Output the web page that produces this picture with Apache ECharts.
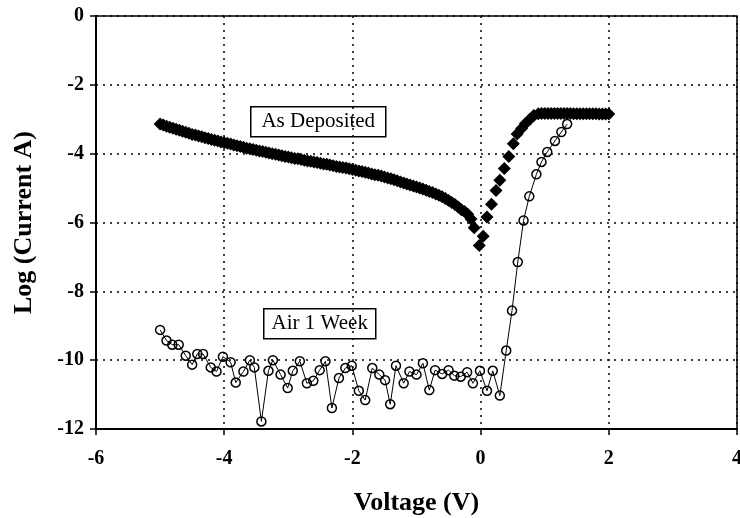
<!DOCTYPE html>
<html>
<head>
<meta charset="utf-8">
<script src="https://cdn.jsdelivr.net/npm/echarts@6/dist/echarts.min.js"></script>
<style>
html,body{margin:0;padding:0;background:#fff;}
#c{width:740px;height:518px;}
</style>
</head>
<body>
<div id="c"></div>
<script>
// ---- Data ----
var xTicks = [-6, -4, -2, 0, 2, 4];
var yTicks = [-12, -10, -8, -6, -4, -2, 0];

var depName = 'As Deposited';
var xDep = [
 -5.00,-4.95,-4.90,-4.85,-4.80,-4.75,-4.70,-4.65,-4.60,-4.55,
 -4.50,-4.45,-4.40,-4.35,-4.30,-4.25,-4.20,-4.15,-4.10,-4.05,
 -4.00,-3.95,-3.90,-3.85,-3.80,-3.75,-3.70,-3.65,-3.60,-3.55,
 -3.50,-3.45,-3.40,-3.35,-3.30,-3.25,-3.20,-3.15,-3.10,-3.05,
 -3.00,-2.95,-2.90,-2.85,-2.80,-2.75,-2.70,-2.65,-2.60,-2.55,
 -2.50,-2.45,-2.40,-2.35,-2.30,-2.25,-2.20,-2.15,-2.10,-2.05,
 -2.00,-1.95,-1.90,-1.85,-1.80,-1.75,-1.70,-1.65,-1.60,-1.55,
 -1.50,-1.45,-1.40,-1.35,-1.30,-1.25,-1.20,-1.15,-1.10,-1.05,
 -1.00,-0.95,-0.90,-0.85,-0.80,-0.75,-0.70,-0.65,-0.60,-0.55,
 -0.50,-0.45,-0.40,-0.35,-0.30,-0.25,-0.20,-0.15,-0.10,
 -0.02,0.04,0.10,0.17,0.24,0.30,0.37,0.44,0.51,0.57,
 0.64,0.70,0.77,0.83,0.90,0.95,1.00,1.05,1.10,1.15,
 1.20,1.25,1.30,1.35,1.40,1.45,1.50,1.55,1.60,1.65,
 1.70,1.75,1.80,1.85,1.90,1.95,2.00
];
var yDep = [
 -3.14,-3.17,-3.20,-3.23,-3.26,-3.29,-3.32,-3.35,-3.38,-3.41,
 -3.44,-3.46,-3.49,-3.51,-3.54,-3.56,-3.59,-3.61,-3.63,-3.66,
 -3.68,-3.70,-3.72,-3.75,-3.77,-3.79,-3.81,-3.84,-3.86,-3.88,
 -3.90,-3.92,-3.94,-3.96,-3.98,-4.00,-4.02,-4.04,-4.06,-4.08,
 -4.10,-4.12,-4.14,-4.15,-4.17,-4.19,-4.21,-4.22,-4.24,-4.26,
 -4.28,-4.30,-4.31,-4.33,-4.35,-4.37,-4.39,-4.40,-4.42,-4.44,
 -4.46,-4.48,-4.50,-4.52,-4.54,-4.56,-4.59,-4.61,-4.63,-4.65,
 -4.68,-4.71,-4.73,-4.76,-4.79,-4.82,-4.85,-4.88,-4.91,-4.94,
 -4.97,-5.00,-5.03,-5.06,-5.10,-5.13,-5.17,-5.21,-5.25,-5.30,
 -5.36,-5.42,-5.48,-5.55,-5.63,-5.68,-5.76,-5.90,-6.15,
 -6.67,-6.40,-5.84,-5.47,-5.07,-4.77,-4.43,-4.08,-3.71,-3.43,
 -3.27,-3.12,-3.00,-2.89,-2.84,-2.83,-2.83,-2.83,-2.83,-2.83,
 -2.83,-2.83,-2.83,-2.83,-2.83,-2.84,-2.84,-2.84,-2.84,-2.84,
 -2.84,-2.84,-2.84,-2.85,-2.85,-2.85,-2.85
];

var airName = 'Air 1 Week';
var xAir = [
 -5.00,-4.90,-4.81,-4.71,-4.60,-4.50,-4.42,-4.33,-4.21,-4.12,
 -4.02,-3.90,-3.82,-3.70,-3.60,-3.53,-3.42,-3.31,-3.24,-3.12,
 -3.01,-2.93,-2.82,-2.71,-2.61,-2.51,-2.42,-2.32,-2.21,-2.11,
 -2.01,-1.90,-1.80,-1.69,-1.58,-1.49,-1.41,-1.32,-1.20,-1.11,
 -1.00,-0.90,-0.80,-0.71,-0.60,-0.50,-0.41,-0.31,-0.21,-0.12,
 -0.01,0.10,0.19,0.30,0.40,0.49,0.58,0.67,0.76,0.87,
 0.95,1.04,1.16,1.26,1.35
];
var yAir = [
 -9.12,-9.43,-9.55,-9.55,-9.87,-10.13,-9.82,-9.82,-10.21,-10.33,
 -9.90,-10.06,-10.65,-10.33,-10.00,-10.21,-11.78,-10.31,-10.00,-10.42,
 -10.81,-10.31,-10.03,-10.67,-10.60,-10.29,-10.03,-11.39,-10.52,-10.23,
 -10.16,-10.89,-11.16,-10.23,-10.42,-10.58,-11.28,-10.16,-10.67,-10.33,
 -10.42,-10.09,-10.87,-10.29,-10.40,-10.29,-10.45,-10.48,-10.35,-10.67,
 -10.31,-10.89,-10.31,-11.03,-9.72,-8.56,-7.15,-5.94,-5.24,-4.60,
 -4.24,-3.95,-3.63,-3.37,-3.14
];

var xTitle = 'Voltage (V)';
var yTitle = 'Log (Current A)';

// ---- Chart ----
function pairs(xs, ys){ var out=[]; for(var i=0;i<xs.length;i++){ out.push([xs[i], ys[i]]); } return out; }

var serif = '"Liberation Serif","Times New Roman",serif';
var chart = echarts.init(document.getElementById('c'), null, {renderer:'canvas'});

var gridDash = {color:'#000', width:1.5, type:[2,5]};

chart.setOption({
  animation:false,
  backgroundColor:'#fff',
  grid:{left:96, right:3, top:16, bottom:89, containLabel:false, outerBoundsMode:'none',
        show:true, borderColor:'#000', borderWidth:1.5, backgroundColor:'transparent'},
  xAxis:{
    type:'value', min:xTicks[0], max:xTicks[xTicks.length-1], interval:2,
    axisLine:{show:true, onZero:false, lineStyle:{color:'#000', width:2}},
    axisTick:{show:true, inside:false, length:6, lineStyle:{color:'#000', width:1.5}},
    axisLabel:{color:'#000', fontFamily:serif, fontWeight:'bold', fontSize:20, margin:20},
    splitLine:{show:true, lineStyle:gridDash},
    name:xTitle, nameLocation:'middle', nameGap:61,
    nameTextStyle:{color:'#000', fontFamily:serif, fontWeight:'bold', fontSize:26}
  },
  yAxis:{
    type:'value', min:yTicks[0], max:yTicks[yTicks.length-1], interval:2,
    axisLine:{show:true, onZero:false, lineStyle:{color:'#000', width:2}},
    axisTick:{show:true, inside:false, length:6, lineStyle:{color:'#000', width:1.5}},
    axisLabel:{color:'#000', fontFamily:serif, fontWeight:'bold', fontSize:20, margin:12},
    splitLine:{show:true, lineStyle:gridDash},
    name:yTitle, nameLocation:'middle', nameGap:59,
    nameTextStyle:{color:'#000', fontFamily:serif, fontWeight:'bold', fontSize:26}
  },
  series:[
    {
      name:airName, type:'line', data:pairs(xAir, yAir),
      symbol:'circle', symbolSize:9, showAllSymbol:true,
      lineStyle:{color:'#000', width:1},
      itemStyle:{color:'rgba(255,255,255,0)', borderColor:'#000', borderWidth:1.5},
      z:3
    },
    {
      name:depName, type:'scatter', data:pairs(xDep, yDep),
      symbol:'diamond', symbolSize:13,
      itemStyle:{color:'#000', opacity:1},
      z:4
    }
  ],
  graphic:[
    {type:'group', left:250, top:106, children:[
      {type:'rect', shape:{x:0,y:0,width:135,height:30}, style:{fill:'#fff', stroke:'#000', lineWidth:1.5}},
      {type:'text', x:67.5, y:15, style:{text:depName, font:'21px '+serif, fill:'#000', textAlign:'center', textVerticalAlign:'middle'}}
    ]},
    {type:'group', left:263, top:308, children:[
      {type:'rect', shape:{x:0,y:0,width:112,height:30}, style:{fill:'#fff', stroke:'#000', lineWidth:1.5}},
      {type:'text', x:56, y:15, style:{text:airName, font:'21px '+serif, fill:'#000', textAlign:'center', textVerticalAlign:'middle'}}
    ]}
  ]
});
</script>
</body>
</html>
